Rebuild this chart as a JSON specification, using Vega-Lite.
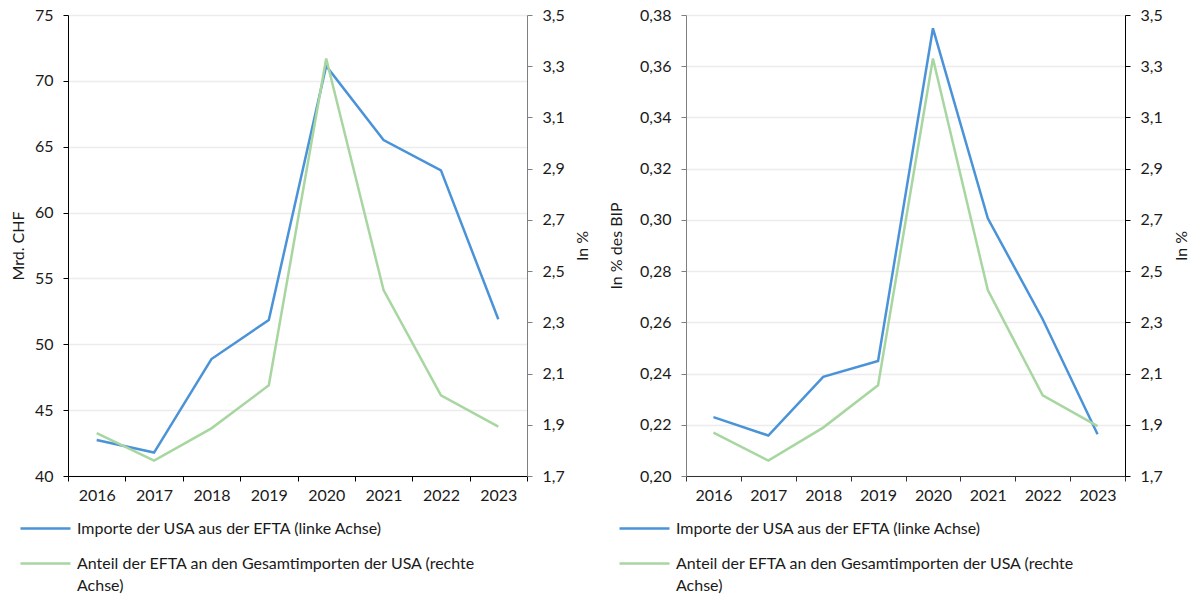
{
  "$schema": "https://vega.github.io/schema/vega-lite/v6.json",
  "background": "white",
  "padding": {"left": 10, "top": 7, "right": 5, "bottom": 5},
  "config": {
    "locale": {"number": {"decimal": ",", "thousands": "'", "grouping": [3], "currency": ["", " CHF"]}},
    "font": "Lato",
    "view": {"stroke": null},
    "axis": {"labelFont": "Lato", "labelFontSize": 16, "labelColor": "#1a1a1a", "titleFont": "Lato", "titleFontSize": 16, "titleFontWeight": "normal", "titleColor": "#1a1a1a", "tickSize": 5, "labelPadding": 10, "gridColor": "#ececec", "gridWidth": 1.5},
    "style": {"guide-label": {"lineHeight": 22}}
  },
  "data": {"values": [
    {"panel": "A", "axis": "L", "series": "Importe der USA aus der EFTA (linke Achse)", "year": "2016", "value": 42.73},
    {"panel": "A", "axis": "L", "series": "Importe der USA aus der EFTA (linke Achse)", "year": "2017", "value": 41.78},
    {"panel": "A", "axis": "L", "series": "Importe der USA aus der EFTA (linke Achse)", "year": "2018", "value": 48.88},
    {"panel": "A", "axis": "L", "series": "Importe der USA aus der EFTA (linke Achse)", "year": "2019", "value": 51.85},
    {"panel": "A", "axis": "L", "series": "Importe der USA aus der EFTA (linke Achse)", "year": "2020", "value": 71.13},
    {"panel": "A", "axis": "L", "series": "Importe der USA aus der EFTA (linke Achse)", "year": "2021", "value": 65.51},
    {"panel": "A", "axis": "L", "series": "Importe der USA aus der EFTA (linke Achse)", "year": "2022", "value": 63.2},
    {"panel": "A", "axis": "L", "series": "Importe der USA aus der EFTA (linke Achse)", "year": "2023", "value": 51.9},
    {"panel": "A", "axis": "R", "series": "Anteil der EFTA an den Gesamtimporten der USA (rechte Achse)", "year": "2016", "value": 1.867},
    {"panel": "A", "axis": "R", "series": "Anteil der EFTA an den Gesamtimporten der USA (rechte Achse)", "year": "2017", "value": 1.76},
    {"panel": "A", "axis": "R", "series": "Anteil der EFTA an den Gesamtimporten der USA (rechte Achse)", "year": "2018", "value": 1.886},
    {"panel": "A", "axis": "R", "series": "Anteil der EFTA an den Gesamtimporten der USA (rechte Achse)", "year": "2019", "value": 2.054},
    {"panel": "A", "axis": "R", "series": "Anteil der EFTA an den Gesamtimporten der USA (rechte Achse)", "year": "2020", "value": 3.33},
    {"panel": "A", "axis": "R", "series": "Anteil der EFTA an den Gesamtimporten der USA (rechte Achse)", "year": "2021", "value": 2.426},
    {"panel": "A", "axis": "R", "series": "Anteil der EFTA an den Gesamtimporten der USA (rechte Achse)", "year": "2022", "value": 2.015},
    {"panel": "A", "axis": "R", "series": "Anteil der EFTA an den Gesamtimporten der USA (rechte Achse)", "year": "2023", "value": 1.893},
    {"panel": "B", "axis": "L", "series": "Importe der USA aus der EFTA (linke Achse)", "year": "2016", "value": 0.223},
    {"panel": "B", "axis": "L", "series": "Importe der USA aus der EFTA (linke Achse)", "year": "2017", "value": 0.2158},
    {"panel": "B", "axis": "L", "series": "Importe der USA aus der EFTA (linke Achse)", "year": "2018", "value": 0.2387},
    {"panel": "B", "axis": "L", "series": "Importe der USA aus der EFTA (linke Achse)", "year": "2019", "value": 0.2449},
    {"panel": "B", "axis": "L", "series": "Importe der USA aus der EFTA (linke Achse)", "year": "2020", "value": 0.3748},
    {"panel": "B", "axis": "L", "series": "Importe der USA aus der EFTA (linke Achse)", "year": "2021", "value": 0.3006},
    {"panel": "B", "axis": "L", "series": "Importe der USA aus der EFTA (linke Achse)", "year": "2022", "value": 0.2612},
    {"panel": "B", "axis": "L", "series": "Importe der USA aus der EFTA (linke Achse)", "year": "2023", "value": 0.2163},
    {"panel": "B", "axis": "R", "series": "Anteil der EFTA an den Gesamtimporten der USA (rechte Achse)", "year": "2016", "value": 1.869},
    {"panel": "B", "axis": "R", "series": "Anteil der EFTA an den Gesamtimporten der USA (rechte Achse)", "year": "2017", "value": 1.76},
    {"panel": "B", "axis": "R", "series": "Anteil der EFTA an den Gesamtimporten der USA (rechte Achse)", "year": "2018", "value": 1.889},
    {"panel": "B", "axis": "R", "series": "Anteil der EFTA an den Gesamtimporten der USA (rechte Achse)", "year": "2019", "value": 2.054},
    {"panel": "B", "axis": "R", "series": "Anteil der EFTA an den Gesamtimporten der USA (rechte Achse)", "year": "2020", "value": 3.33},
    {"panel": "B", "axis": "R", "series": "Anteil der EFTA an den Gesamtimporten der USA (rechte Achse)", "year": "2021", "value": 2.426},
    {"panel": "B", "axis": "R", "series": "Anteil der EFTA an den Gesamtimporten der USA (rechte Achse)", "year": "2022", "value": 2.015},
    {"panel": "B", "axis": "R", "series": "Anteil der EFTA an den Gesamtimporten der USA (rechte Achse)", "year": "2023", "value": 1.895}
  ]},
  "spacing": 17,
  "resolve": {"scale": {"color": "independent"}, "legend": {"color": "independent"}},
  "hconcat": [
    {
      "width": 459,
      "height": 461,
      "transform": [{"filter": "datum.panel == 'A'"}],
      "encoding": {
        "x": {"field": "year", "type": "ordinal", "bandPosition": 0.5,
          "scale": {"type": "band", "paddingInner": 0, "paddingOuter": 0},
          "axis": {"title": null, "labelAngle": 0, "tickBand": "extent", "domainColor": "#000000", "tickColor": "#000000", "grid": false, "labelPadding": 6}}
      },
      "layer": [
        {
          "transform": [{"filter": "datum.axis == 'L'"}],
          "mark": {"type": "line", "strokeWidth": 2.5},
          "encoding": {
            "y": {"field": "value", "type": "quantitative",
              "scale": {"domain": [40, 75], "nice": false, "zero": false},
              "axis": {"title": "Mrd. CHF", "values": [40, 45, 50, 55, 60, 65, 70, 75], "format": "d", "grid": true, "domainColor": "#000000", "tickColor": "#000000", "titlePadding": 8}},
            "color": {"field": "series", "type": "nominal",
              "scale": {"domain": ["Importe der USA aus der EFTA (linke Achse)", "Anteil der EFTA an den Gesamtimporten der USA (rechte Achse)"], "range": ["#4A93D8", "#A8D6A0"]},
              "legend": {"orient": "none", "legendX": -49, "legendY": 487, "direction": "vertical", "title": null, "symbolType": "stroke", "symbolSize": 2500, "symbolStrokeWidth": 2.5, "labelFontSize": 16, "labelFont": "Lato", "labelColor": "#1a1a1a", "labelLimit": 700, "rowPadding": 0, "labelOffset": 5,
                "labelExpr": "indexof(datum.label, 'rechte') > 0 ? ['Anteil der EFTA an den Gesamtimporten der USA (rechte', 'Achse)'] : datum.label"}}
          }
        },
        {
          "transform": [{"filter": "datum.axis == 'R'"}],
          "mark": {"type": "line", "strokeWidth": 2.5},
          "encoding": {
            "y": {"field": "value", "type": "quantitative",
              "scale": {"domain": [1.7, 3.5], "nice": false, "zero": false},
              "axis": {"orient": "right", "title": "In %", "titleAngle": 270, "values": [1.7, 1.9, 2.1, 2.3, 2.5, 2.7, 2.9, 3.1, 3.3, 3.5], "format": ".1f", "grid": false, "domainColor": "#7f7f7f", "tickColor": "#7f7f7f", "titlePadding": 26}},
            "color": {"field": "series", "type": "nominal"}
          }
        }
      ],
      "resolve": {"scale": {"y": "independent"}}
    },
    {
      "width": 439,
      "height": 461,
      "transform": [{"filter": "datum.panel == 'B'"}],
      "encoding": {
        "x": {"field": "year", "type": "ordinal", "bandPosition": 0.5,
          "scale": {"type": "band", "paddingInner": 0, "paddingOuter": 0},
          "axis": {"title": null, "labelAngle": 0, "tickBand": "extent", "domainColor": "#333333", "tickColor": "#333333", "grid": false, "labelPadding": 6}}
      },
      "layer": [
        {
          "transform": [{"filter": "datum.axis == 'L'"}],
          "mark": {"type": "line", "strokeWidth": 2.5},
          "encoding": {
            "y": {"field": "value", "type": "quantitative",
              "scale": {"domain": [0.2, 0.38], "nice": false, "zero": false},
              "axis": {"title": "In % des BIP", "values": [0.2, 0.22, 0.24, 0.26, 0.28, 0.3, 0.32, 0.34, 0.36, 0.38], "format": ".2f", "grid": true, "domainColor": "#7f7f7f", "tickColor": "#7f7f7f", "titlePadding": 15}},
            "color": {"field": "series", "type": "nominal",
              "scale": {"domain": ["Importe der USA aus der EFTA (linke Achse)", "Anteil der EFTA an den Gesamtimporten der USA (rechte Achse)"], "range": ["#4A93D8", "#A8D6A0"]},
              "legend": {"orient": "none", "legendX": -68, "legendY": 487, "direction": "vertical", "title": null, "symbolType": "stroke", "symbolSize": 2500, "symbolStrokeWidth": 2.5, "labelFontSize": 16, "labelFont": "Lato", "labelColor": "#1a1a1a", "labelLimit": 700, "rowPadding": 0, "labelOffset": 5,
                "labelExpr": "indexof(datum.label, 'rechte') > 0 ? ['Anteil der EFTA an den Gesamtimporten der USA (rechte', 'Achse)'] : datum.label"}}
          }
        },
        {
          "transform": [{"filter": "datum.axis == 'R'"}],
          "mark": {"type": "line", "strokeWidth": 2.5},
          "encoding": {
            "y": {"field": "value", "type": "quantitative",
              "scale": {"domain": [1.7, 3.5], "nice": false, "zero": false},
              "axis": {"orient": "right", "title": "In %", "titleAngle": 270, "values": [1.7, 1.9, 2.1, 2.3, 2.5, 2.7, 2.9, 3.1, 3.3, 3.5], "format": ".1f", "grid": false, "domainColor": "#000000", "tickColor": "#000000", "titlePadding": 27}},
            "color": {"field": "series", "type": "nominal"}
          }
        }
      ],
      "resolve": {"scale": {"y": "independent"}}
    }
  ]
}
